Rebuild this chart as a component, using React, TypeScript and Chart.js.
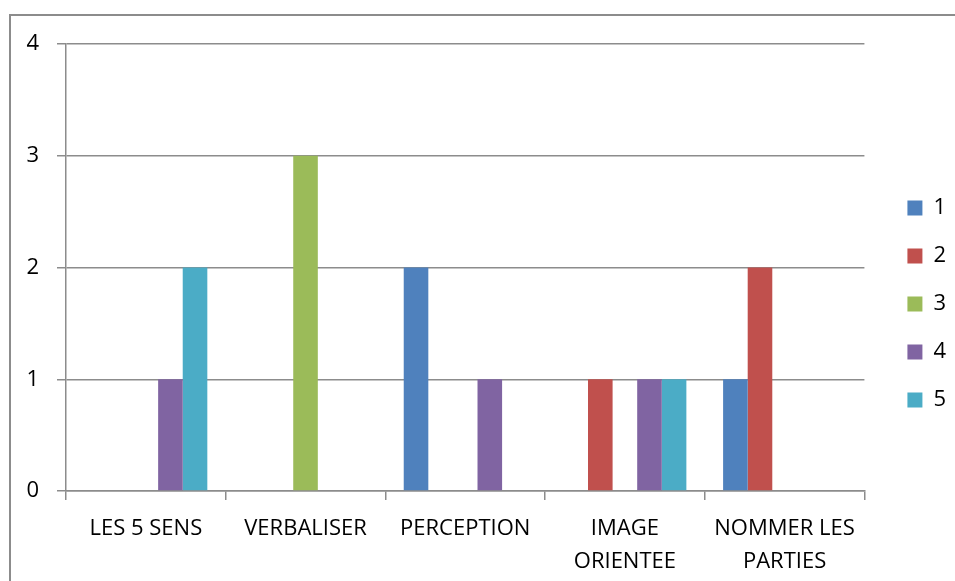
import React, { useEffect, useRef } from "react";
import { Chart, registerables } from "chart.js";

Chart.register(...registerables);

const categories: (string | string[])[] = [
  "LES 5 SENS",
  "VERBALISER",
  "PERCEPTION",
  ["IMAGE", "ORIENTEE"],
  ["NOMMER LES", "PARTIES"],
];

const seriesNames = ["1", "2", "3", "4", "5"];
const series1 = [0, 0, 2, 0, 1];
const series2 = [0, 0, 0, 1, 2];
const series3 = [0, 3, 0, 0, 0];
const series4 = [1, 0, 1, 1, 0];
const series5 = [2, 0, 0, 1, 0];
const seriesColors = ["#4F81BD", "#C0504D", "#9BBB59", "#8064A2", "#4BACC6"];

const yTicks = [0, 1, 2, 3, 4];

const FONT = "'Open Sans', 'Noto Sans', sans-serif";
const GRID = "#8c8c8c";

export default function App() {
  const canvasRef = useRef<HTMLCanvasElement | null>(null);

  useEffect(() => {
    const canvas = canvasRef.current;
    if (!canvas) return;
    const values = [series1, series2, series3, series4, series5];
    const chart = new Chart(canvas, {
      type: "bar",
      data: {
        labels: categories,
        datasets: values.map((v, i) => ({
          label: seriesNames[i],
          data: v,
          backgroundColor: seriesColors[i],
          borderWidth: 0,
          categoryPercentage: 0.77,
          barPercentage: 1,
        })),
      },
      options: {
        responsive: false,
        animation: false,
        devicePixelRatio: 1,
        layout: { padding: { top: 44, bottom: 0, left: 0, right: -1 } },
        plugins: {
          tooltip: { enabled: false },
          legend: {
            position: "right",
            align: "start",
            title: {
              display: true,
              text: "",
              font: { size: 1, lineHeight: 1 },
              padding: { top: 126, bottom: 0 },
            },
            labels: {
              boxWidth: 15,
              boxHeight: 15,
              padding: 26,
              color: "#000",
              font: { family: FONT, size: 22 },
            },
          },
        },
        scales: {
          x: {
            ticks: {
              color: "#000",
              font: { family: FONT, size: 22, lineHeight: 1.5 },
              padding: 12,
              maxRotation: 0,
              autoSkip: false,
            },
            grid: {
              offset: true,
              drawOnChartArea: false,
              drawTicks: true,
              tickLength: 9,
              color: GRID,
              lineWidth: 1.5,
            },
            border: { display: true, color: GRID, width: 1.5 },
            afterFit: (s: any) => {
              s.height = 90;
            },
          },
          y: {
            min: 0,
            max: 4,
            afterBuildTicks: (s: any) => {
              s.ticks = yTicks.map((v) => ({ value: v }));
            },
            ticks: {
              color: "#000",
              font: { family: FONT, size: 22 },
              padding: 18,
              stepSize: 1,
            },
            grid: {
              color: GRID,
              lineWidth: 1.5,
              tickLength: 9,
              drawTicks: true,
            },
            border: { display: true, color: GRID, width: 1.5 },
            afterFit: (s: any) => {
              s.width = 66;
            },
          },
          gap: {
            type: "linear",
            position: "right",
            display: true,
            grid: { display: false, drawTicks: false },
            ticks: { display: false },
            border: { display: false },
            afterFit: (s: any) => {
              s.width = 17;
            },
          },
        },
      },
    } as any);
    return () => chart.destroy();
  }, []);

  return (
    <div
      style={{
        position: "fixed",
        left: 0,
        top: 0,
        width: 955,
        height: 581,
        overflow: "hidden",
        background: "#fff",
      }}
    >
      <div
        style={{
          position: "absolute",
          left: 9,
          top: 14,
          width: 1000,
          height: 700,
          border: "2px solid #8c8c8c",
          boxSizing: "border-box",
        }}
      />
      <canvas
        ref={canvasRef}
        width={955}
        height={581}
        style={{ position: "absolute", left: 0, top: 0, width: 955, height: 581 }}
      />
    </div>
  );
}
